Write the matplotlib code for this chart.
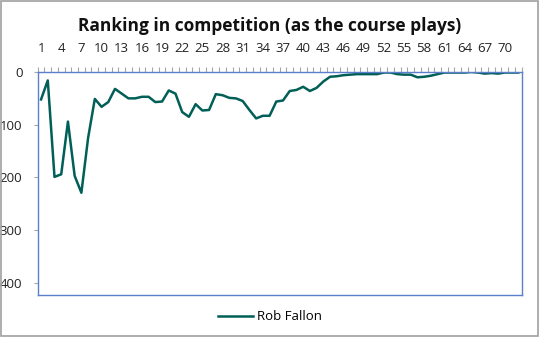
import numpy as np
import matplotlib.pyplot as plt
from matplotlib.ticker import FixedLocator

plt.rcParams['font.family'] = ['Open Sans', 'DejaVu Sans']

# ranking after each hole/round, 72 entries
rounds = np.arange(1, 73)
ranking = [52, 16, 199, 194, 94, 197, 229, 125, 51, 66, 57, 32,
           41, 50, 50, 47, 47, 57, 56, 35, 41, 76, 85, 61,
           73, 72, 42, 44, 49, 50, 55, 72, 88, 83, 83, 56,
           54, 36, 34, 28, 36, 30, 18, 9, 8, 6, 5, 4,
           4, 4, 4, 1, 1, 4, 5, 5, 10, 9, 7, 4,
           1, 1, 1, 1, 0, 1, 3, 2, 3, 1, 1, 1]
player = 'Rob Fallon'
title = 'Ranking in competition (as the course plays)'

line_col = '#005F56'
axis_col = '#5B7FCC'
tick_col = '#A6A6A6'

fig = plt.figure(figsize=(5.4, 3.37), dpi=100)
ax = fig.add_axes([0.0698, 0.1246, 0.8962, 0.6617])

ax.plot(rounds, ranking, color=line_col, lw=1.8, label=player)

ax.set_xlim(0.5, 72.5)
ax.set_ylim(423, 0)

# category axis sits on top, labels every third round
ax.xaxis.tick_top()
ax.xaxis.set_major_locator(FixedLocator(rounds[::3]))
ax.xaxis.set_minor_locator(FixedLocator(np.arange(0.5, 73, 1)))
ax.tick_params(axis='x', which='major', length=0, labelsize=9.5, pad=12,
               labelcolor='#222222')
ax.tick_params(axis='x', which='minor', length=3.5, color=tick_col, width=0.8)
ax.set_yticks([0, 100, 200, 300, 400])
ax.tick_params(axis='y', length=3, color=tick_col, labelsize=9.5,
               labelcolor='#222222', pad=8)

for side in ['top', 'bottom', 'left', 'right']:
    ax.spines[side].set_color(axis_col)
    ax.spines[side].set_linewidth(1.0)

fig.text(0.5, 0.922, title, ha='center', va='center', fontsize=12.5,
         fontweight='bold', color='#111111')

fig.legend(loc='center', bbox_to_anchor=(0.5, 0.06), frameon=False,
           fontsize=9.5, handlelength=2.6, handletextpad=0.3)

# grey frame round the whole chart
fig.patches.append(plt.Rectangle((0.002, 0.003), 0.995, 0.994,
                                 transform=fig.transFigure, fill=False,
                                 edgecolor='#A0A0A0', lw=1.2))

fig.savefig('out.png', dpi=100)
